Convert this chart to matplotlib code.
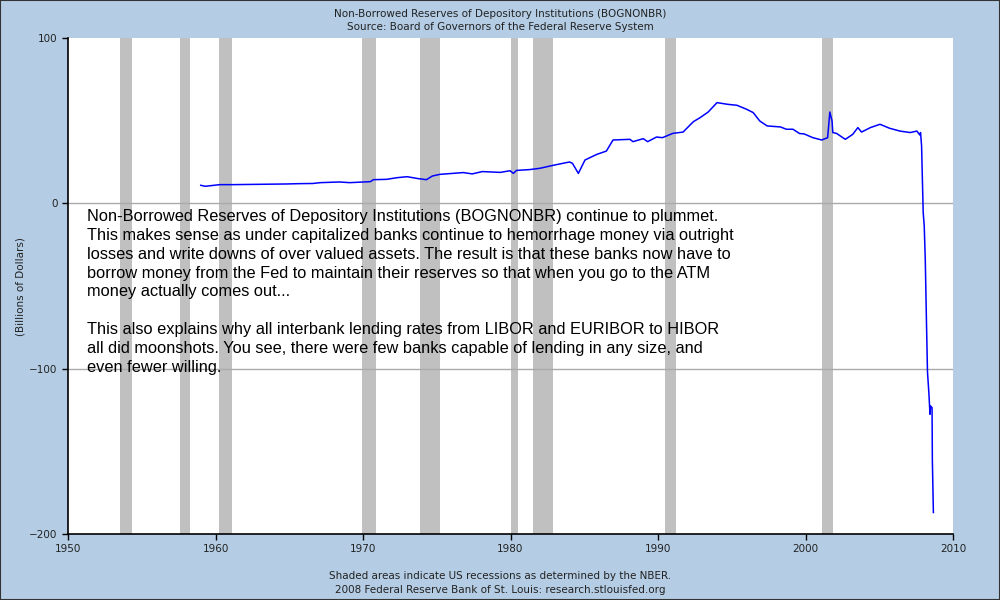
import matplotlib
matplotlib.use("Agg")
import matplotlib.pyplot as plt

# Recession periods (NBER), start/end as decimal years
rec_start = [1953.55, 1957.6, 1960.25, 1969.9, 1973.85, 1980.0, 1981.5, 1990.5, 2001.15]
rec_end   = [1954.35, 1958.3, 1961.1, 1970.9, 1975.2, 1980.5, 1982.85, 1991.2, 2001.85]

# BOGNONBR series (billions of dollars)
years = [1959.0, 1959.3, 1960.3, 1961.2, 1964.8, 1965.7, 1966.6, 1967.1, 1968.4, 1969.1,
         1970.5, 1970.7, 1971.6, 1972.3, 1973.0, 1973.7, 1974.3, 1974.7, 1975.2, 1976.8,
         1977.4, 1978.1, 1979.3, 1979.97, 1980.2, 1980.4, 1981.3, 1982.0, 1982.9, 1984.0,
         1984.2, 1984.6, 1985.05, 1985.85, 1986.5, 1986.95, 1988.1, 1988.3, 1989.0, 1989.3,
         1989.9, 1990.3, 1991.0, 1991.7, 1992.4, 1992.85, 1993.4, 1994.0, 1994.7, 1995.35,
         1996.0, 1996.45, 1996.9, 1997.4, 1998.3, 1998.7, 1999.15, 1999.6, 1999.9, 2000.5,
         2001.1, 2001.5, 2001.65, 2001.8, 2001.85, 2002.1, 2002.7, 2003.2, 2003.55, 2003.8,
         2004.4, 2005.05, 2005.7, 2006.4, 2007.1, 2007.55, 2007.75, 2007.8, 2007.87, 2007.93,
         2007.98, 2008.05, 2008.12, 2008.2, 2008.27, 2008.37, 2008.44, 2008.48, 2008.58, 2008.6,
         2008.67]
values = [10.9, 10.3, 11.3, 11.3, 11.7, 11.9, 12.0, 12.5, 12.9, 12.5,
          13.1, 14.3, 14.5, 15.5, 16.1, 15.0, 14.3, 16.5, 17.5, 18.6,
          17.8, 19.2, 18.7, 19.7, 18.1, 19.9, 20.4, 21.2, 23.0, 25.0,
          24.2, 18.1, 26.2, 29.6, 31.6, 38.3, 38.7, 37.3, 39.1, 37.3,
          40.1, 39.7, 42.3, 43.1, 49.4, 51.8, 55.2, 60.9, 59.9, 59.3,
          56.9, 54.9, 49.8, 46.8, 46.2, 44.8, 44.8, 42.2, 42.0, 39.7,
          38.3, 39.7, 55.2, 49.8, 42.8, 42.3, 38.7, 41.7, 45.8, 43.1,
          45.8, 47.8, 45.4, 43.7, 42.8, 43.7, 41.3, 42.8, 34.7, 12.5,
          -5.6, -13.7, -33.9, -71.2, -102.0, -115.5, -127.6, -122.6, -123.6, -154.9,
          -187.0]

xticks = [1950, 1960, 1970, 1980, 1990, 2000, 2010]
yticks = [-200, -100, 0, 100]

title_lines = ["Non-Borrowed Reserves of Depository Institutions (BOGNONBR)",
               "Source: Board of Governors of the Federal Reserve System"]
footer_lines = ["Shaded areas indicate US recessions as determined by the NBER.",
                "2008 Federal Reserve Bank of St. Louis: research.stlouisfed.org"]
ylabel = "(Billions of Dollars)"
note = ("Non-Borrowed Reserves of Depository Institutions (BOGNONBR) continue to plummet.\n"
        "This makes sense as under capitalized banks continue to hemorrhage money via outright\n"
        "losses and write downs of over valued assets. The result is that these banks now have to\n"
        "borrow money from the Fed to maintain their reserves so that when you go to the ATM\n"
        "money actually comes out...\n"
        "\n"
        "This also explains why all interbank lending rates from LIBOR and EURIBOR to HIBOR\n"
        "all did moonshots. You see, there were few banks capable of lending in any size, and\n"
        "even fewer willing.")

bg = "#b4cde4"
fig = plt.figure(figsize=(10, 6), dpi=100, facecolor=bg)
fig.patches.append(plt.Rectangle((0, 0), 1, 1, transform=fig.transFigure,
                                 fill=False, edgecolor="#333333", linewidth=1.5))
ax = fig.add_axes([0.068, 0.11, 0.885, 0.8267])
ax.set_facecolor("white")
ax.set_xlim(1950, 2010)
ax.set_ylim(-200, 100)

for s, e in zip(rec_start, rec_end):
    ax.axvspan(s, e, color="#c0c0c0", lw=0, zorder=1)

for g in [0, -100]:
    ax.axhline(g, color="#aaaaaa", lw=1, zorder=2)

ax.plot(years, values, color="#0000ff", lw=1.1, zorder=3)

ax.set_xticks(xticks)
ax.set_yticks(yticks)
ax.tick_params(axis="both", labelsize=7.5, length=4, width=1, direction="out",
               colors="black", labelcolor="#222222")
ax.tick_params(axis="x", pad=3)
for side in ["top", "right"]:
    ax.spines[side].set_visible(False)
for side in ["left", "bottom"]:
    ax.spines[side].set_linewidth(1.2)

fig.text(0.021, 0.523, ylabel, rotation=90, ha="center", va="center",
         fontsize=7.5, color="#222222")

fig.text(0.5, 0.985, title_lines[0], ha="center", va="top", fontsize=7.5, color="#222222")
fig.text(0.5, 0.963, title_lines[1], ha="center", va="top", fontsize=7.5, color="#222222")
fig.text(0.5, 0.04, footer_lines[0], ha="center", va="center", fontsize=7.5, color="#222222")
fig.text(0.5, 0.017, footer_lines[1], ha="center", va="center", fontsize=7.5, color="#222222")

ax.text(0.022, 0.655, note, transform=ax.transAxes, ha="left", va="top",
        fontsize=11.8, family="Liberation Sans", color="black", linespacing=1.32,
        zorder=4)

fig.savefig("out.png", dpi=100, facecolor=bg)
